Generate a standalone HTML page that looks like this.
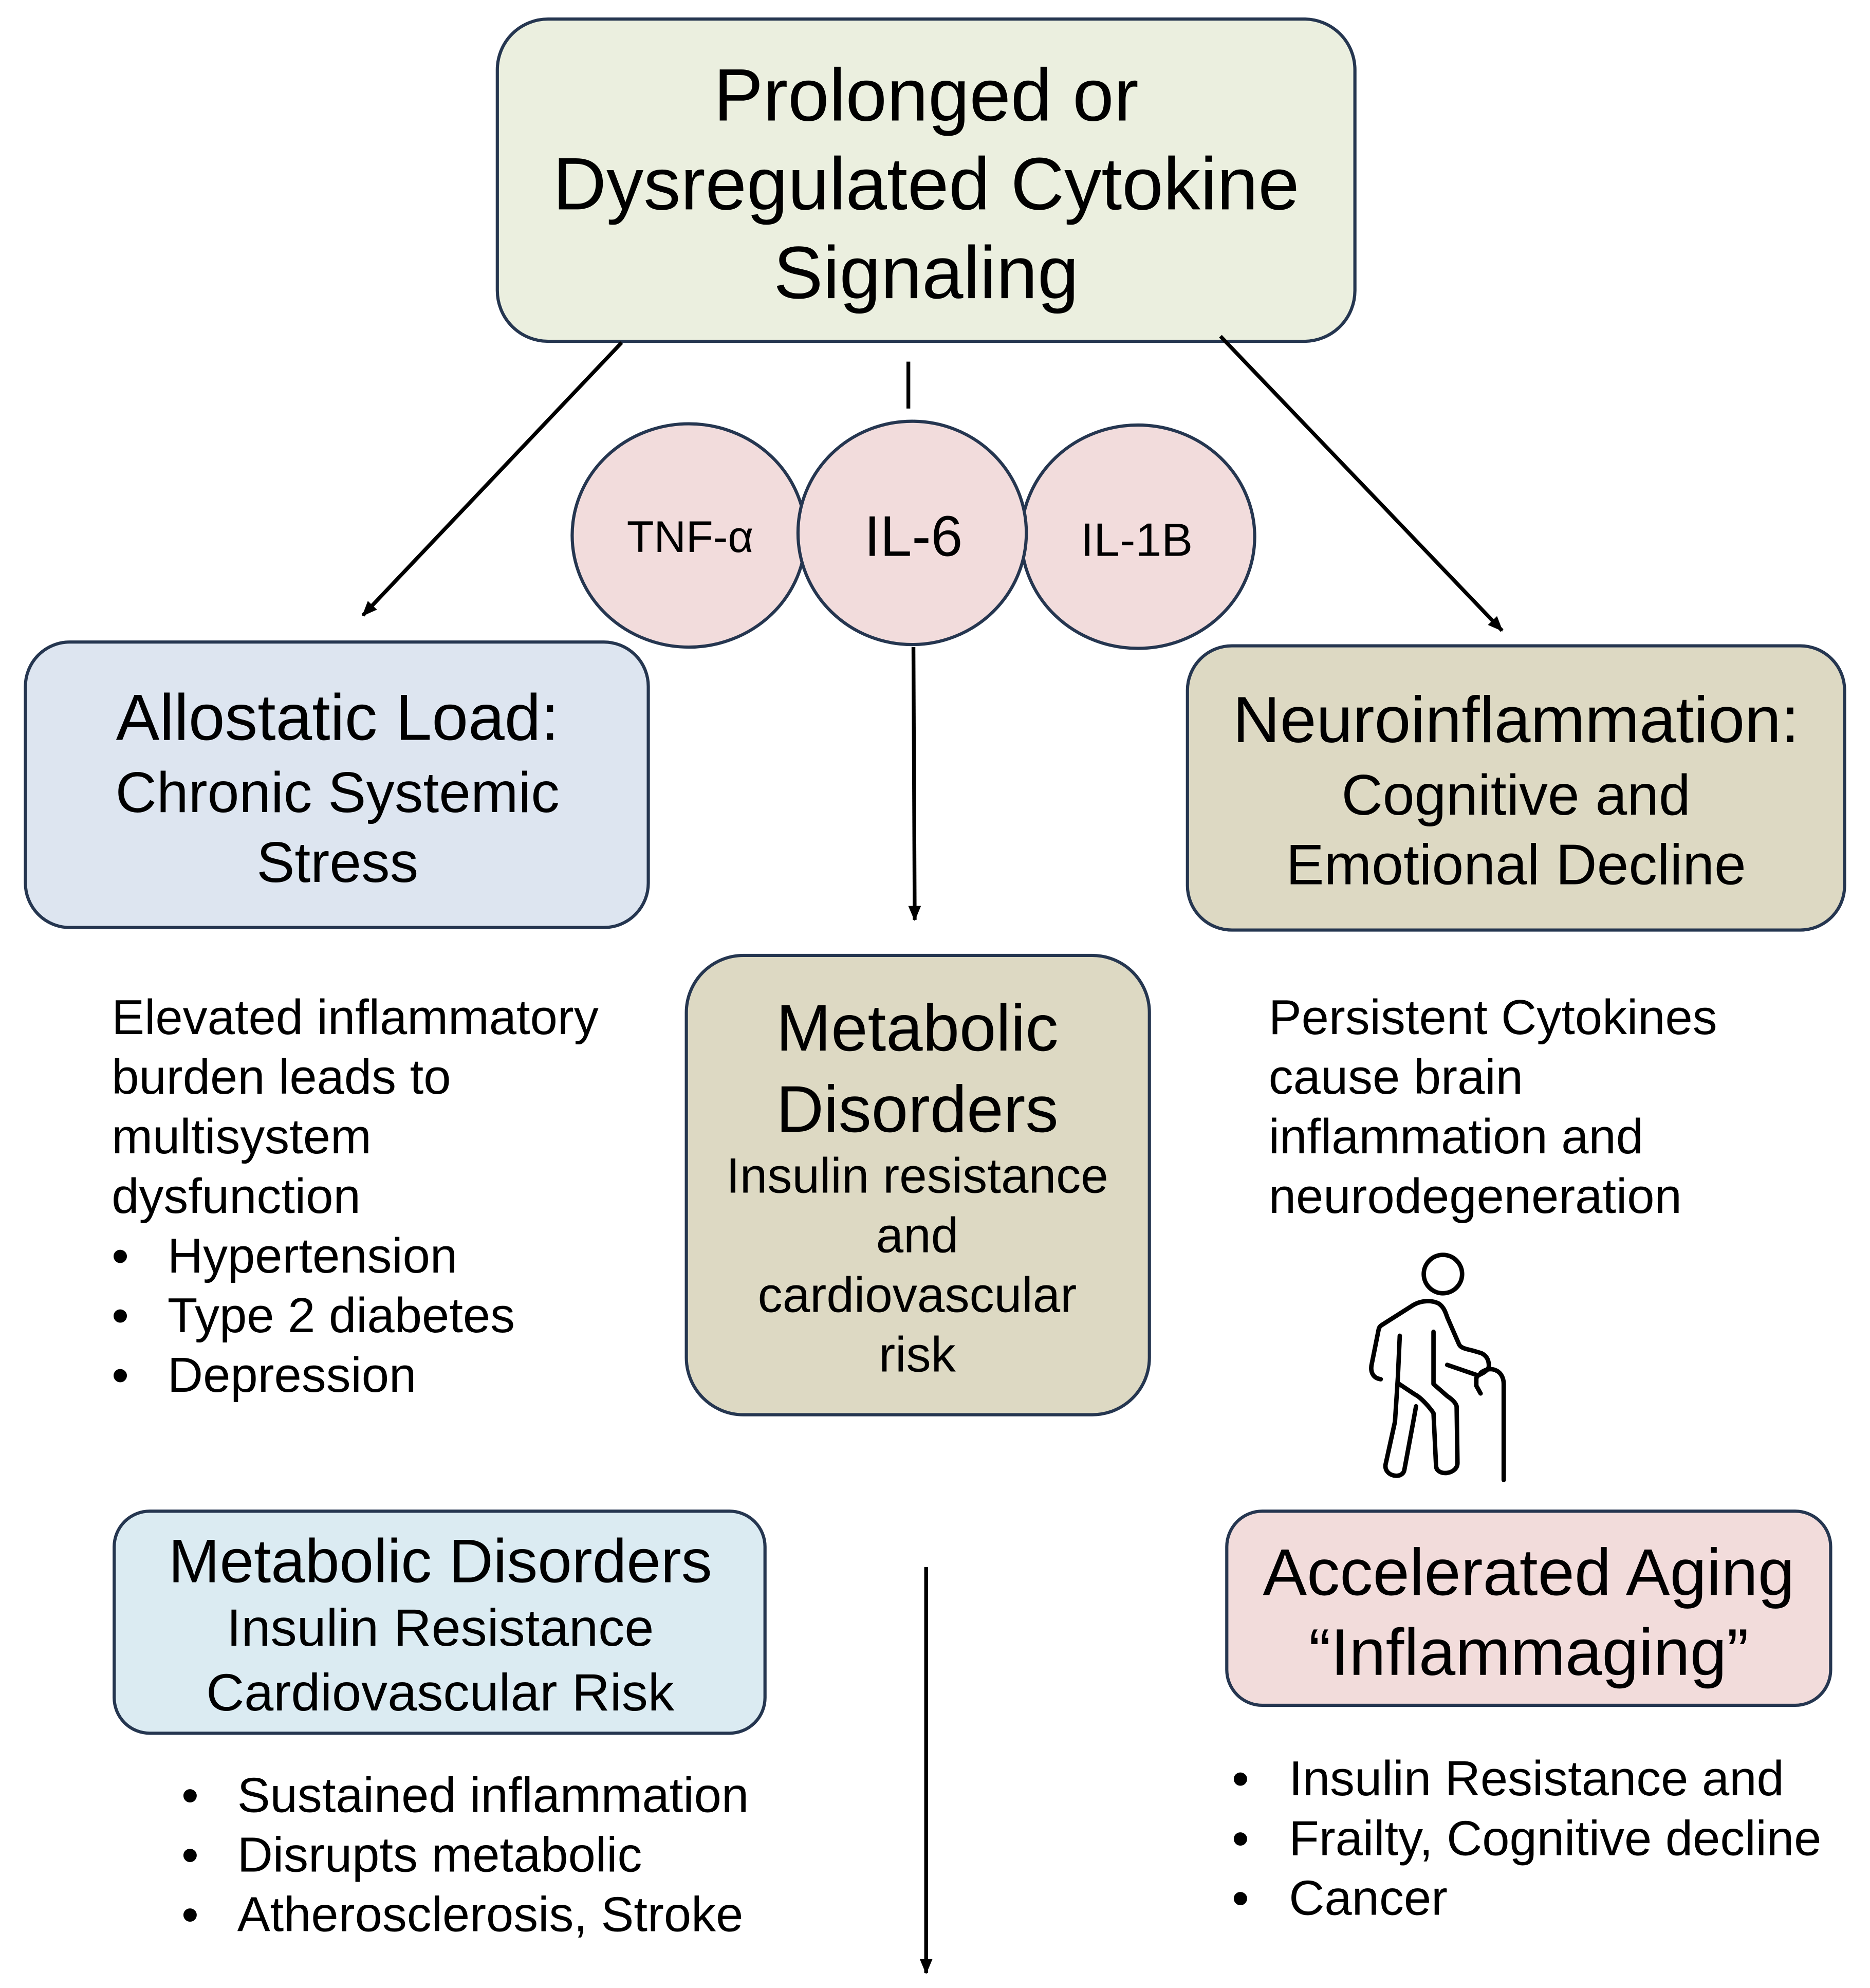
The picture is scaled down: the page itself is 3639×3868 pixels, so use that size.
<!DOCTYPE html>
<html><head><meta charset="utf-8"><style>html,body{margin:0;padding:0;background:#fff}svg{display:block}text{font-family:"Liberation Sans",sans-serif;fill:#000}</style></head><body>
<svg width="3639" height="3868" viewBox="0 0 1474 1566.8" xmlns="http://www.w3.org/2000/svg">
<defs><marker id="b" markerWidth="12" markerHeight="12" refX="11" refY="6" orient="auto" markerUnits="userSpaceOnUse"><path d="M0,1 L12,6 L0,11 Z" fill="#000"/></marker></defs>
<g stroke="#253650" stroke-width="2.5">
<rect x="392" y="15" width="676" height="254" rx="40" fill="#ebefdf"/>
<rect x="20" y="506" width="491" height="225" rx="35" fill="#dde5f0"/>
<rect x="936" y="509" width="518" height="224" rx="35" fill="#ddd9c3"/>
<rect x="541" y="753" width="365" height="362" rx="45" fill="#ddd9c3"/>
<rect x="90" y="1191" width="513" height="175" rx="28" fill="#dbebf2"/>
<rect x="967" y="1191" width="476" height="153" rx="28" fill="#f2dcdb"/>
<ellipse cx="543" cy="422" rx="92" ry="88" fill="#f2dcdc"/>
<ellipse cx="897" cy="423" rx="92" ry="88" fill="#f2dcdc"/>
<ellipse cx="719" cy="420" rx="90" ry="88" fill="#f2dcdc"/>
</g>
<g stroke="#000" stroke-width="3" fill="none">
<line x1="490" y1="270" x2="286" y2="485" marker-end="url(#b)"/>
<line x1="962" y1="265" x2="1184" y2="497" marker-end="url(#b)"/>
<line x1="716" y1="285" x2="716" y2="322"/>
<line x1="720" y1="510" x2="721" y2="725" marker-end="url(#b)"/>
<line x1="730" y1="1235" x2="730" y2="1555" marker-end="url(#b)"/>
</g>
<g text-anchor="middle">
<text x="730" y="95" font-size="58.5">Prolonged or</text>
<text x="730" y="165" font-size="58.5">Dysregulated Cytokine</text>
<text x="730" y="235" font-size="58.5">Signaling</text>
<text x="544" y="435" font-size="35">TNF-α</text>
<text x="720" y="438" font-size="45">IL-6</text>
<text x="896" y="438" font-size="37">IL-1B</text>
<text x="266" y="583" font-size="51.5">Allostatic Load:</text>
<text x="266" y="640" font-size="45">Chronic Systemic</text>
<text x="266" y="695" font-size="45">Stress</text>
<text x="1195" y="585" font-size="51.5">Neuroinflammation:</text>
<text x="1195" y="642" font-size="45">Cognitive and</text>
<text x="1195" y="697" font-size="45">Emotional Decline</text>
<text x="723" y="828" font-size="52">Metabolic</text>
<text x="723" y="892" font-size="52">Disorders</text>
<text x="723" y="940" font-size="39">Insulin resistance</text>
<text x="723" y="987" font-size="39">and</text>
<text x="723" y="1034" font-size="39">cardiovascular</text>
<text x="723" y="1081" font-size="39">risk</text>
<text x="347" y="1247" font-size="48.5">Metabolic Disorders</text>
<text x="347" y="1297" font-size="41.5">Insulin Resistance</text>
<text x="347" y="1348" font-size="41.5">Cardiovascular Risk</text>
<text x="1205" y="1257" font-size="52">Accelerated Aging</text>
<text x="1205" y="1320" font-size="52">“Inflammaging”</text>
</g>
<g font-size="38.8">
<text x="88" y="815">Elevated inflammatory</text>
<text x="88" y="862">burden leads to</text>
<text x="88" y="909">multisystem</text>
<text x="88" y="956">dysfunction</text>
<text x="88" y="1003">•</text><text x="132" y="1003">Hypertension</text>
<text x="88" y="1050">•</text><text x="132" y="1050">Type 2 diabetes</text>
<text x="88" y="1097">•</text><text x="132" y="1097">Depression</text>
<text x="1000" y="815">Persistent Cytokines</text>
<text x="1000" y="862">cause brain</text>
<text x="1000" y="909">inflammation and</text>
<text x="1000" y="956">neurodegeneration</text>
<text x="143" y="1428">•</text><text x="187" y="1428">Sustained inflammation</text>
<text x="143" y="1475">•</text><text x="187" y="1475">Disrupts metabolic</text>
<text x="143" y="1522">•</text><text x="187" y="1522">Atherosclerosis, Stroke</text>
<text x="971" y="1415">•</text><text x="1016" y="1415">Insulin Resistance and</text>
<text x="971" y="1462">•</text><text x="1016" y="1462">Frailty, Cognitive decline</text>
<text x="971" y="1509">•</text><text x="1016" y="1509">Cancer</text>
</g>
<g transform="translate(1053,972) scale(0.135)" fill="none" stroke="#000" stroke-width="26" stroke-linecap="round" stroke-linejoin="round">
<circle cx="625" cy="238" r="112"/>
<path d="M262,852 C210,845 200,800 210,760 L250,560 C255,540 270,535 280,528 L450,420 C500,390 560,390 600,410 C630,430 640,460 650,490 L720,650 C730,670 760,675 800,685 L850,700 C880,715 895,740 893,780 C880,810 850,820 830,830 L820,845 L820,890 L845,935"/>
<path d="M650,768 L830,830"/>
<path d="M845,815 C870,795 900,790 920,795 C960,805 980,840 980,880 L980,1440"/>
<path d="M373,598 L362,840 L345,1100 L290,1350 C280,1420 390,1440 400,1380 L450,1110 L468,1010"/>
<path d="M370,880 L460,940 C500,960 550,1020 570,1050 L585,1360 C590,1420 710,1410 710,1340 L705,1010 C700,990 680,970 650,950 L570,880 L570,575"/>
</g>
</svg>
</body></html>
